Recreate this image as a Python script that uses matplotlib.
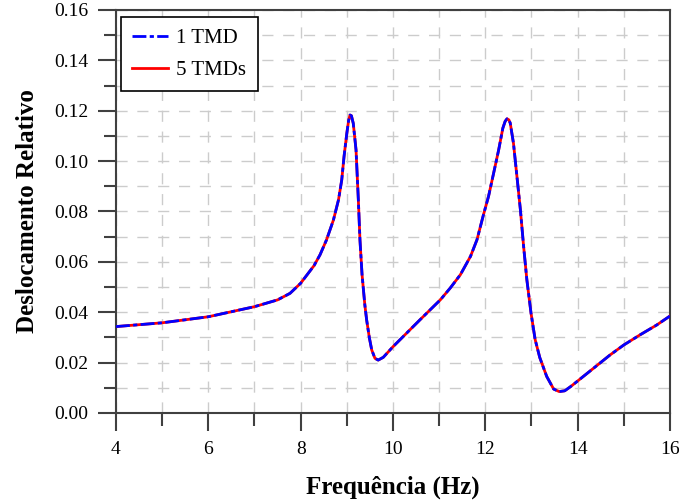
import matplotlib.pyplot as plt
from matplotlib.ticker import MultipleLocator, FormatStrFormatter

# frequency (Hz) and relative displacement
freq = [4.0, 5.0, 6.0, 7.0, 7.5, 7.77, 8.0, 8.29, 8.42, 8.56, 8.71, 8.82,
        8.89, 8.94, 9.0, 9.04, 9.07, 9.1, 9.14, 9.2, 9.25, 9.285, 9.33,
        9.39, 9.43, 9.49, 9.54, 9.61, 9.68, 9.79, 10.0, 10.29, 10.58,
        11.03, 11.24, 11.46, 11.68, 11.82, 11.96, 12.07, 12.18, 12.29,
        12.38, 12.43, 12.47, 12.51, 12.54, 12.61, 12.70, 12.76, 12.83,
        12.90, 12.99, 13.08, 13.18, 13.33, 13.48, 13.6, 13.72, 13.85,
        13.98, 14.34, 14.7, 15.0, 15.35, 15.71, 16.0]
desl_1tmd = [0.0343, 0.0358, 0.0382, 0.0422, 0.0449, 0.0475, 0.0515, 0.0585,
             0.0628, 0.0687, 0.0766, 0.0846, 0.0925, 0.1018, 0.111, 0.1162,
             0.1183, 0.1180, 0.115, 0.1044, 0.0846, 0.0687, 0.055, 0.043,
             0.0369, 0.0297, 0.025, 0.0217, 0.021, 0.0221, 0.0263, 0.0316,
             0.0369, 0.045, 0.0496, 0.0549, 0.0622, 0.0688, 0.0787, 0.086,
             0.0952, 0.1045, 0.1131, 0.1158, 0.1168, 0.1164, 0.1151, 0.1071,
             0.0913, 0.0807, 0.0661, 0.0529, 0.0397, 0.0291, 0.022, 0.0145,
             0.0095, 0.0085, 0.0088, 0.0105, 0.0124, 0.0177, 0.023, 0.027,
             0.031, 0.0349, 0.0385]
# the 5 TMD curve sits exactly on top of the 1 TMD one
desl_5tmd = list(desl_1tmd)

plt.rcParams['font.family'] = ['Liberation Serif', 'DejaVu Serif']

fig = plt.figure(figsize=(6.79, 5.04), dpi=100)
ax = fig.add_axes([0.1708, 0.1806, 0.8159, 0.7996])

ax.plot(freq, desl_5tmd, color='#ff0000', lw=2, label='5 TMDs', zorder=3)
ax.plot(freq, desl_1tmd, color='#0000ff', lw=2, dashes=[5, 1.2, 1.5, 1.2],
        label='1 TMD', zorder=4)

ax.set_xlim(4, 16)
ax.set_ylim(0, 0.16)
ax.xaxis.set_major_locator(MultipleLocator(2))
ax.xaxis.set_minor_locator(MultipleLocator(1))
ax.yaxis.set_major_locator(MultipleLocator(0.02))
ax.yaxis.set_minor_locator(MultipleLocator(0.01))
ax.yaxis.set_major_formatter(FormatStrFormatter('%.2f'))

ax.grid(True, which='both', color='#cccccc', lw=1, dashes=(8, 7))
ax.set_axisbelow(True)

for s in ax.spines.values():
    s.set_color('#404040')
    s.set_linewidth(1.5)
ax.tick_params(which='major', direction='out', length=13, width=1.5,
               color='#404040', labelsize=14, pad=7)
ax.tick_params(which='minor', direction='out', length=9, width=1.5,
               color='#404040')
ax.tick_params(right=False, top=False, which='both')

ax.set_xlabel('Frequência (Hz)', fontsize=18, fontweight='bold', labelpad=13)
ax.set_ylabel('Deslocamento Relativo', fontsize=18, fontweight='bold', labelpad=11)

handles, labels = ax.get_legend_handles_labels()
leg = ax.legend(handles[::-1], labels[::-1], loc='upper left',
                bbox_to_anchor=(0.009, 0.983), fontsize=15, frameon=True,
                fancybox=False, edgecolor='black', framealpha=1,
                handlelength=1.7, handletextpad=0.4, labelspacing=0.6,
                borderpad=0.55, borderaxespad=0)
leg.get_frame().set_linewidth(1.2)

fig.savefig('out.png', dpi=100)
